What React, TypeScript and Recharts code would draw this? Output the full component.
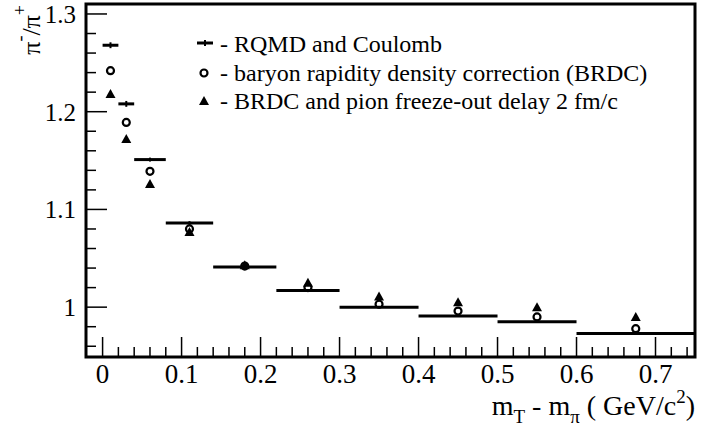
import React from 'react';
import {
  ScatterChart,
  Scatter,
  XAxis,
  YAxis,
  ErrorBar,
  ReferenceArea,
  Customized,
} from 'recharts';

// bins in m_T - m_pi (GeV/c^2)
const binLow = [0, 0.02, 0.04, 0.08, 0.14, 0.22, 0.3, 0.4, 0.5, 0.6];
const binHigh = [0.02, 0.04, 0.08, 0.14, 0.22, 0.3, 0.4, 0.5, 0.6, 0.75];

// pi-/pi+ ratio
const rqmdCoulomb = [1.268, 1.208, 1.151, 1.086, 1.041, 1.017, 1.0, 0.991, 0.985, 0.973];
const rqmdCoulombErr = [0.003, 0.003, 0.002, 0.002, 0.001, 0.001, 0.001, 0.001, 0.001, 0.001];
const brdc = [1.242, 1.189, 1.139, 1.08, 1.042, 1.02, 1.003, 0.996, 0.99, 0.978];
const brdcFreezeOut = [1.218, 1.172, 1.126, 1.077, 1.043, 1.025, 1.011, 1.005, 1.0, 0.99];

const xMajor = [0, 0.1, 0.2, 0.3, 0.4, 0.5, 0.6, 0.7];
const xMajorLabels = ['0', '0.1', '0.2', '0.3', '0.4', '0.5', '0.6', '0.7'];
const xMinor = [
  0.02, 0.04, 0.06, 0.08, 0.12, 0.14, 0.16, 0.18, 0.22, 0.24, 0.26, 0.28, 0.32, 0.34, 0.36,
  0.38, 0.42, 0.44, 0.46, 0.48, 0.52, 0.54, 0.56, 0.58, 0.62, 0.64, 0.66, 0.68, 0.72, 0.74,
];
const yMajor = [1.0, 1.1, 1.2, 1.3];
const yMajorLabels = ['1', '1.1', '1.2', '1.3'];
const yMinor = [0.96, 0.98, 1.02, 1.04, 1.06, 1.08, 1.12, 1.14, 1.16, 1.18, 1.22, 1.24, 1.26, 1.28];

const legendLabels = [
  '- RQMD and Coulomb',
  '- baryon rapidity density correction (BRDC)',
  '- BRDC and pion freeze-out delay 2 fm/c',
];

const X_DOMAIN: [number, number] = [-0.021, 0.75];
const Y_DOMAIN: [number, number] = [0.949, 1.3102];
const FONT = "'Liberation Serif', 'Times New Roman', serif";
const txt = { fontFamily: FONT, fill: '#000' };

const centers = binLow.map((lo, i) => (lo + binHigh[i]) / 2);

const rqmdData = centers.map((x, i) => ({
  x,
  y: rqmdCoulomb[i],
  xErr: (binHigh[i] - binLow[i]) / 2,
  yErr: rqmdCoulombErr[i],
}));
const brdcData = centers.map((x, i) => ({ x, y: brdc[i] }));
const freezeData = centers.map((x, i) => ({ x, y: brdcFreezeOut[i] }));

const findLabel = (v: number, majors: number[], labels: string[]) => {
  const i = majors.findIndex((m) => Math.abs(m - v) < 1e-9);
  return i >= 0 ? labels[i] : null;
};

const XTick = (props: any) => {
  const { x, y, payload } = props;
  const label = findLabel(payload.value, xMajor, xMajorLabels);
  return (
    <g>
      <line x1={x} x2={x} y1={y} y2={y - (label ? 20 : 10)} stroke="#000" strokeWidth={1.5} />
      {label && (
        <text x={x} y={y + 26} textAnchor="middle" style={{ ...txt, fontSize: 27 }}>
          {label}
        </text>
      )}
    </g>
  );
};

const YTick = (props: any) => {
  const { x, y, payload } = props;
  const label = findLabel(payload.value, yMajor, yMajorLabels);
  return (
    <g>
      <line x1={x} x2={x + (label ? 21 : 10)} y1={y} y2={y} stroke="#000" strokeWidth={1.5} />
      {label && (
        <text x={x - 10} y={y + 9} textAnchor="end" style={{ ...txt, fontSize: 25 }}>
          {label}
        </text>
      )}
    </g>
  );
};

const Circle = (props: any) => (
  <circle cx={props.cx} cy={props.cy} r={3.5} fill="none" stroke="#000" strokeWidth={2.2} />
);

const Triangle = (props: any) => {
  const { cx, cy } = props;
  return <polygon points={`${cx},${cy - 5} ${cx - 5},${cy + 4} ${cx + 5},${cy + 4}`} fill="#000" />;
};

const Nothing = () => <g />;

const Annotations = () => (
  <g>
    {/* legend */}
    <line x1={197} x2={213} y1={43} y2={43} stroke="#000" strokeWidth={3} />
    <line x1={205} x2={205} y1={40} y2={46} stroke="#000" strokeWidth={2} />
    <circle cx={204} cy={73} r={3.5} fill="none" stroke="#000" strokeWidth={2.2} />
    <polygon points="204,96 199,105 209,105" fill="#000" />
    {legendLabels.map((t, i) => (
      <text key={t} x={220} y={52 + i * 28.5} style={{ ...txt, fontSize: 24 }}>
        {t}
      </text>
    ))}
    {/* x title */}
    <text x={695} y={415} textAnchor="end" style={{ ...txt, fontSize: 28 }}>
      m<tspan dy={8} style={{ fontSize: 19 }}>T</tspan>
      <tspan dy={-8}> - m</tspan>
      <tspan dy={8} style={{ fontSize: 19 }}>π</tspan>
      <tspan dy={-8}> ( GeV/c</tspan>
      <tspan dy={-12} style={{ fontSize: 19 }}>2</tspan>
      <tspan dy={12}>)</tspan>
    </text>
    {/* y title */}
    <text transform="translate(40,5) rotate(-90)" textAnchor="end" style={{ ...txt, fontSize: 26 }}>
      π<tspan dy={-14} style={{ fontSize: 18 }}>-</tspan>
      <tspan dy={14}>/π</tspan>
      <tspan dy={-14} style={{ fontSize: 18 }}>+</tspan>
    </text>
  </g>
);

export default function App() {
  return (
    <div style={{ position: 'absolute', left: 0, top: 0, width: 723, height: 427, background: '#fff' }}>
      <ScatterChart width={723} height={427} margin={{ top: 4, right: 28, bottom: 0, left: 0 }}>
        <XAxis
          type="number"
          dataKey="x"
          domain={X_DOMAIN}
          ticks={[...xMajor, ...xMinor]}
          interval={0}
          tick={<XTick />}
          tickLine={false}
          axisLine={false}
          tickSize={0}
          tickMargin={0}
          height={70}
          allowDataOverflow
        />
        <YAxis
          type="number"
          dataKey="y"
          domain={Y_DOMAIN}
          ticks={[...yMajor, ...yMinor]}
          interval={0}
          tick={<YTick />}
          tickLine={false}
          axisLine={false}
          tickSize={0}
          tickMargin={0}
          width={86}
          allowDataOverflow
        />
        <ReferenceArea
          x1={X_DOMAIN[0]}
          x2={X_DOMAIN[1]}
          y1={Y_DOMAIN[0]}
          y2={Y_DOMAIN[1]}
          fill="none"
          fillOpacity={0}
          stroke="#000"
          strokeWidth={3}
          ifOverflow="visible"
        />
        <Scatter data={freezeData} shape={Triangle} isAnimationActive={false} />
        <Scatter data={brdcData} shape={Circle} isAnimationActive={false} />
        <Scatter data={rqmdData} shape={Nothing} isAnimationActive={false}>
          <ErrorBar dataKey="xErr" direction="x" width={0} stroke="#000" strokeWidth={3} />
          <ErrorBar dataKey="yErr" direction="y" width={0} stroke="#000" strokeWidth={2} />
        </Scatter>
        <Customized component={Annotations} />
      </ScatterChart>
    </div>
  );
}
